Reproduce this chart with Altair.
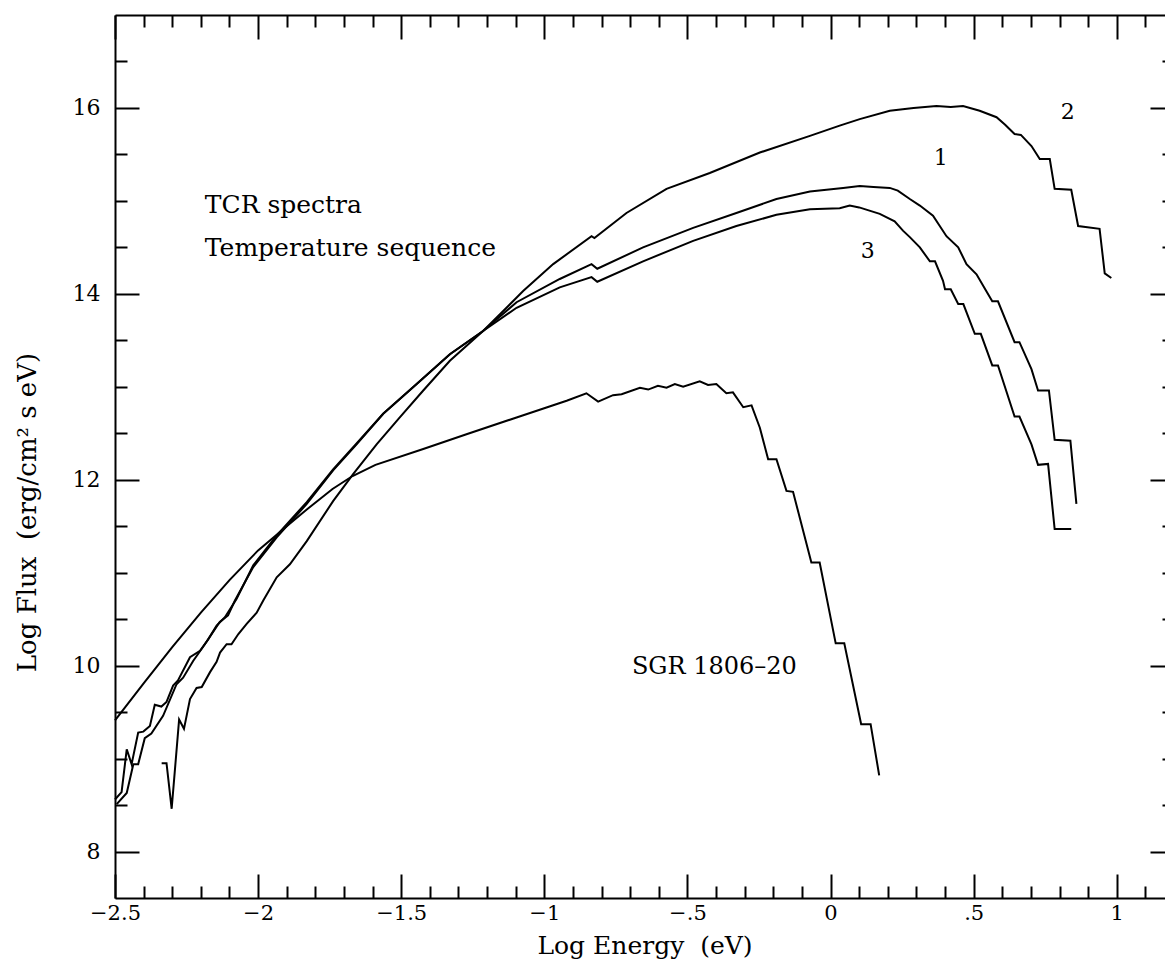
import altair as alt
import pandas as pd

# ---------------- data ----------------
c1_x = [-2.494, -2.459, -2.436, -2.419, -2.396, -2.373, -2.332, -2.285, -2.262, -2.227,
        -2.186, -2.134, -2.105, -2.081, -2.017, -1.935, -1.830, -1.738, -1.656, -1.563,
        -1.446, -1.330, -1.214, -1.097, -0.946, -0.835, -0.815, -0.655, -0.480, -0.329,
        -0.189, -0.072, 0.044, 0.102, 0.150, 0.207, 0.235, 0.277, 0.312, 0.358,
        0.405, 0.446, 0.475, 0.510, 0.544, 0.565, 0.585, 0.643, 0.660, 0.702,
        0.725, 0.763, 0.783, 0.838, 0.859]
c1_y = [8.51, 8.63, 8.94, 8.94, 9.22, 9.27, 9.46, 9.80, 9.87, 10.05,
        10.23, 10.47, 10.54, 10.70, 11.06, 11.38, 11.74, 12.10, 12.38, 12.71,
        13.03, 13.35, 13.60, 13.91, 14.16, 14.32, 14.27, 14.50, 14.71, 14.87,
        15.02, 15.10, 15.14, 15.16, 15.15, 15.14, 15.11, 15.02, 14.95, 14.84,
        14.62, 14.50, 14.32, 14.21, 14.03, 13.92, 13.92, 13.48, 13.48, 13.19,
        12.96, 12.96, 12.43, 12.42, 11.74]

c2_x = [-2.337, -2.320, -2.302, -2.276, -2.259, -2.238, -2.215, -2.197, -2.168, -2.145,
        -2.133, -2.110, -2.093, -2.069, -2.040, -2.005, -1.982, -1.935, -1.889, -1.830,
        -1.738, -1.668, -1.586, -1.505, -1.423, -1.330, -1.214, -1.155, -1.074, -0.969,
        -0.835, -0.825, -0.713, -0.573, -0.422, -0.247, -0.072, 0.032, 0.102, 0.207,
        0.290, 0.370, 0.420, 0.463, 0.521, 0.580, 0.610, 0.643, 0.665, 0.702,
        0.731, 0.766, 0.783, 0.841, 0.865, 0.940, 0.958, 0.981]
c2_y = [8.95, 8.95, 8.46, 9.42, 9.32, 9.64, 9.76, 9.77, 9.93, 10.04,
        10.14, 10.23, 10.23, 10.34, 10.45, 10.57, 10.70, 10.95, 11.09, 11.34,
        11.77, 12.06, 12.38, 12.67, 12.96, 13.28, 13.60, 13.78, 14.03, 14.32,
        14.62, 14.60, 14.87, 15.13, 15.30, 15.52, 15.70, 15.81, 15.88, 15.97,
        16.00, 16.02, 16.01, 16.02, 15.97, 15.90, 15.82, 15.72, 15.71, 15.59,
        15.45, 15.45, 15.13, 15.12, 14.73, 14.70, 14.22, 14.17]

c3_x = [-2.500, -2.477, -2.459, -2.442, -2.419, -2.401, -2.378, -2.361, -2.338, -2.320,
        -2.297, -2.280, -2.238, -2.203, -2.175, -2.145, -2.116, -2.075, -2.017, -1.935,
        -1.830, -1.738, -1.656, -1.563, -1.446, -1.330, -1.214, -1.097, -0.946, -0.835,
        -0.815, -0.655, -0.480, -0.329, -0.189, -0.072, 0.032, 0.067, 0.100, 0.172,
        0.224, 0.253, 0.277, 0.312, 0.347, 0.365, 0.393, 0.400, 0.420, 0.446,
        0.464, 0.504, 0.525, 0.565, 0.585, 0.643, 0.660, 0.702, 0.725, 0.760,
        0.783, 0.841]
c3_y = [8.56, 8.64, 9.10, 8.94, 9.28, 9.29, 9.35, 9.58, 9.56, 9.61,
        9.785, 9.84, 10.09, 10.16, 10.28, 10.43, 10.52, 10.72, 11.08, 11.40,
        11.76, 12.11, 12.39, 12.71, 13.03, 13.35, 13.60, 13.85, 14.07, 14.18,
        14.13, 14.35, 14.57, 14.73, 14.85, 14.91, 14.92, 14.95, 14.93, 14.86,
        14.78, 14.68, 14.61, 14.50, 14.35, 14.35, 14.14, 14.05, 14.05, 13.89,
        13.89, 13.57, 13.57, 13.23, 13.23, 12.68, 12.68, 12.38, 12.16, 12.17,
        11.47, 11.47]

sgr_x = [-2.500, -2.400, -2.300, -2.200, -2.100, -2.000, -1.900, -1.830, -1.740, -1.670,
         -1.590, -1.423, -1.272, -1.097, -0.922, -0.853, -0.812, -0.760, -0.730, -0.666,
         -0.637, -0.603, -0.573, -0.544, -0.515, -0.457, -0.428, -0.399, -0.364, -0.341,
         -0.305, -0.276, -0.247, -0.218, -0.189, -0.154, -0.131, -0.067, -0.038, 0.018,
         0.048, 0.107, 0.140, 0.170]
sgr_y = [9.41, 9.81, 10.20, 10.57, 10.92, 11.24, 11.50, 11.68, 11.90, 12.04,
         12.16, 12.33, 12.49, 12.67, 12.85, 12.93, 12.84, 12.91, 12.92, 12.99,
         12.97, 13.01, 12.99, 13.03, 13.00, 13.06, 13.02, 13.03, 12.93, 12.94,
         12.78, 12.80, 12.56, 12.22, 12.22, 11.88, 11.87, 11.11, 11.11, 10.24,
         10.24, 9.37, 9.37, 8.82]

note_text = ["TCR spectra", "Temperature sequence", "SGR 1806\u201320"]
note_x = [-2.186, -2.186, -0.694]
note_y = [14.96, 14.49, 9.98]
note_size = [25, 25, 24]

num_text = ["1", "2", "3"]
num_x = [0.385, 0.829, 0.130]
num_y = [15.46, 15.96, 14.46]

x_major = [-2.5, -2.0, -1.5, -1.0, -0.5, 0.0, 0.5, 1.0]
x_minor = [round(v / 10, 1) for v in range(-24, 12) if v % 5 != 0]
y_major = [8, 10, 12, 14, 16]
y_minor = [8.5, 9, 9.5, 10.5, 11, 11.5, 12.5, 13, 13.5, 14.5, 15, 15.5, 16.5]

x_title = "Log Energy\u00a0\u00a0(eV)"
y_title = "Log Flux\u00a0\u00a0(erg/cm\u00b2 s eV)"

# ---------------- build tables ----------------
rows = []
for name, xs, ys in [("1", c1_x, c1_y), ("2", c2_x, c2_y), ("3", c3_x, c3_y), ("SGR", sgr_x, sgr_y)]:
    for i, (xv, yv) in enumerate(zip(xs, ys)):
        rows.append({"series": name, "order": i, "x": xv, "y": yv})
df = pd.DataFrame(rows)
notes = pd.DataFrame({"text": note_text, "x": note_x, "y": note_y, "size": note_size})
nums = pd.DataFrame({"text": num_text, "x": num_x, "y": num_y})

W, H = 1050, 883
FONT = "DejaVu Serif"
xscale = alt.Scale(domain=[-2.5, 1.2], range=[0, 1059], nice=False, zero=False)
yscale = alt.Scale(domain=[7.5, 17], nice=False, zero=False)

label_expr = ("(datum.value < 0 ? '\u2212' : '') + "
              "((datum.value != 0 && abs(datum.value) < 1) ? substring(toString(abs(datum.value)), 1) "
              ": toString(abs(datum.value)))")

tick_common = dict(grid=False, domain=False, tickColor="black", tickWidth=2)


def ax(orient, values, offset, size, **kw):
    return alt.Axis(orient=orient, values=values, offset=offset, tickSize=size,
                    **tick_common, **kw)


def carrier(xaxis, yaxis):
    return alt.Chart(df).mark_line(opacity=0).encode(
        x=alt.X("x:Q", scale=xscale, axis=xaxis, title=None),
        y=alt.Y("y:Q", scale=yscale, axis=yaxis, title=None),
        detail="series:N", order="order:Q")


lines = alt.Chart(df).mark_line(color="black", strokeWidth=2).encode(
    x=alt.X("x:Q", scale=xscale, title=x_title,
            axis=ax("bottom", x_major, -24, 24, labelExpr=label_expr, labelFont=FONT,
                    labelFontSize=21, labelColor="black", labelPadding=4, labelFlush=False,
                    labelOverlap=False, titleFont=FONT, titleFontSize=25,
                    titleFontWeight="normal", titleColor="black", titleY=71,
                    titleBaseline="middle")),
    y=alt.Y("y:Q", scale=yscale, title=y_title,
            axis=ax("left", y_major, -24, 24, labelFont=FONT, labelFontSize=22,
                    labelColor="black", labelPadding=15, labelFlush=False,
                    labelOverlap=False, titleFont=FONT, titleFontSize=26,
                    titleFontWeight="normal", titleColor="black", titleX=-112,
                    titleY=497, titleBaseline="middle")),
    detail="series:N", order="order:Q")

minor_bl = carrier(ax("bottom", x_minor, -12, 12, labels=False),
                   ax("left", y_minor, -12, 12, labels=False))
major_tr = carrier(ax("top", x_major, -24, 24, labels=False),
                   ax("right", y_major, -15, 24, labels=False))
minor_tr = carrier(ax("top", x_minor, -12, 12, labels=False),
                   ax("right", y_minor, -3, 12, labels=False))
frame_bl = carrier(alt.Axis(orient="bottom", grid=False, ticks=False, labels=False,
                            domain=True, domainColor="black", domainWidth=2),
                   alt.Axis(orient="left", grid=False, ticks=False, labels=False,
                            domain=True, domainColor="black", domainWidth=2))
frame_t = carrier(alt.Axis(orient="top", grid=False, ticks=False, labels=False,
                           domain=True, domainColor="black", domainWidth=2),
                  None)

texts = alt.Chart(notes).mark_text(align="left", baseline="middle", font=FONT,
                                   color="black").encode(
    x=alt.X("x:Q", scale=xscale, axis=None),
    y=alt.Y("y:Q", scale=yscale, axis=None),
    text="text:N",
    size=alt.Size("size:Q", scale=None, legend=None))

numbers = alt.Chart(nums).mark_text(align="center", baseline="middle", font=FONT,
                                    fontSize=22, color="black").encode(
    x=alt.X("x:Q", scale=xscale, axis=None),
    y=alt.Y("y:Q", scale=yscale, axis=None),
    text="text:N")

chart = alt.layer(lines, minor_bl, major_tr, minor_tr, frame_bl, frame_t, texts,
                  numbers).resolve_axis(
    x="independent", y="independent"
).properties(
    width=W, height=H,
    autosize=alt.AutoSizeParams(type="none"),
    padding={"left": 115, "top": 15, "right": 0, "bottom": 63},
    background="white",
).configure_view(stroke=None)

chart.save("out.html", embed_options={"renderer": "svg", "actions": False})
